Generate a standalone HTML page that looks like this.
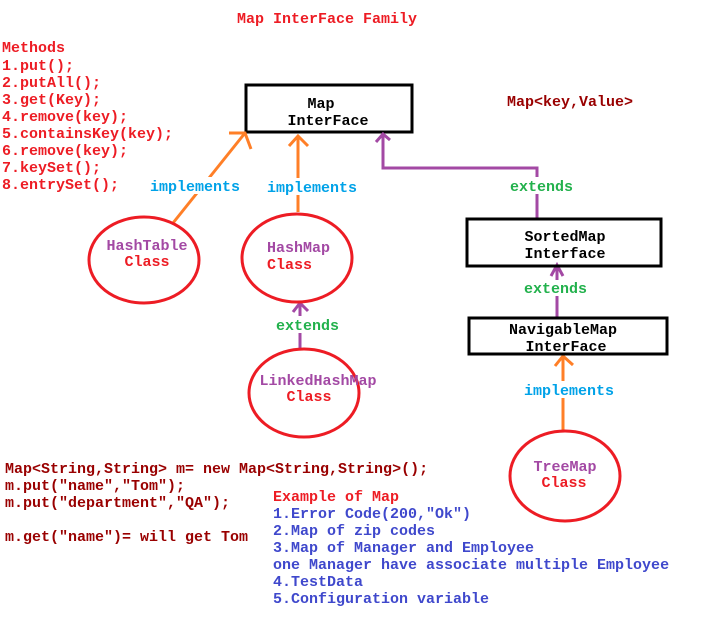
<!DOCTYPE html>
<html><head><meta charset="utf-8"><style>
html,body{margin:0;padding:0;background:#fff;}
svg{display:block;}
text{font-family:"Liberation Mono",monospace;font-size:15px;font-weight:bold;}
</style></head><body>
<svg width="706" height="618" viewBox="0 0 706 618" xmlns="http://www.w3.org/2000/svg">
<g fill="#ed1c24">
<text x="237" y="23">Map InterFace Family</text>
<text x="2" y="52">Methods</text>
<text x="2" y="70">1.put();</text>
<text x="2" y="87">2.putAll();</text>
<text x="2" y="104">3.get(Key);</text>
<text x="2" y="121">4.remove(key);</text>
<text x="2" y="138">5.containsKey(key);</text>
<text x="2" y="155">6.remove(key);</text>
<text x="2" y="172">7.keySet();</text>
<text x="2" y="189">8.entrySet();</text>
</g>
<!-- Map box -->
<rect x="246" y="85" width="166" height="47" fill="none" stroke="#000" stroke-width="3"/>
<text x="321" y="108" text-anchor="middle" fill="#000">Map</text>
<text x="328" y="125" text-anchor="middle" fill="#000">InterFace</text>
<text x="507" y="106" fill="#990000">Map&lt;key,Value&gt;</text>
<!-- orange arrows -->
<g stroke="#ff7f27" stroke-width="3" fill="none">
<line x1="173" y1="223" x2="245" y2="133"/>
<polyline points="229,133 245,133 251,149"/>
<line x1="298" y1="212" x2="298" y2="137"/>
<polyline points="289,146 298,136 308,146"/>
<line x1="563" y1="432" x2="563" y2="357"/>
<polyline points="555,366 563,356 573,365"/>
</g>
<!-- purple arrows -->
<g stroke="#a349a4" stroke-width="3" fill="none">
<polyline points="537,218 537,168 383,168 383,135"/>
<polyline points="376,142 383,134 390,140"/>
<line x1="557" y1="318" x2="557" y2="266"/>
<polyline points="551,276 557,265 563,276"/>
<line x1="300" y1="349" x2="300" y2="304"/>
<polyline points="293,312 300,303 308,311"/>
</g>
<!-- labels with white bg -->
<rect x="148" y="177" width="92" height="17" fill="#fff"/>
<rect x="265" y="178" width="92" height="17" fill="#fff"/>
<rect x="508" y="177" width="66" height="17" fill="#fff"/>
<rect x="522" y="280" width="66" height="16" fill="#fff"/>
<rect x="274" y="316" width="66" height="17" fill="#fff"/>
<rect x="522" y="381" width="92" height="17" fill="#fff"/>
<g fill="#00a2e8">
<text x="150" y="191">implements</text>
<text x="267" y="192">implements</text>
<text x="524" y="395">implements</text>
</g>
<g fill="#22b14c">
<text x="510" y="191">extends</text>
<text x="524" y="293">extends</text>
<text x="276" y="330">extends</text>
</g>
<!-- Sorted / Navigable -->
<rect x="467" y="219" width="194" height="47" fill="none" stroke="#000" stroke-width="3"/>
<text x="565" y="241" text-anchor="middle" fill="#000">SortedMap</text>
<text x="565" y="258" text-anchor="middle" fill="#000">Interface</text>
<rect x="469" y="318" width="198" height="36" fill="none" stroke="#000" stroke-width="3"/>
<text x="563" y="334" text-anchor="middle" fill="#000">NavigableMap</text>
<text x="566" y="351" text-anchor="middle" fill="#000">InterFace</text>
<!-- circles -->
<g fill="none" stroke="#ed1c24" stroke-width="3">
<ellipse cx="144" cy="260" rx="55" ry="43"/>
<ellipse cx="297" cy="258" rx="55" ry="44"/>
<ellipse cx="304" cy="393" rx="55" ry="44"/>
<ellipse cx="565" cy="476" rx="55" ry="45"/>
</g>
<text x="147" y="250" text-anchor="middle" fill="#a349a4">HashTable</text>
<text x="147" y="266" text-anchor="middle" fill="#ed1c24">Class</text>
<text x="267" y="252" fill="#a349a4">HashMap</text>
<text x="267" y="269" fill="#ed1c24">Class</text>
<text x="318" y="385" text-anchor="middle" fill="#a349a4">LinkedHashMap</text>
<text x="309" y="401" text-anchor="middle" fill="#ed1c24">Class</text>
<text x="565" y="471" text-anchor="middle" fill="#a349a4">TreeMap</text>
<text x="564" y="487" text-anchor="middle" fill="#ed1c24">Class</text>
<!-- code -->
<g fill="#990000">
<text x="5" y="473">Map&lt;String,String&gt; m= new Map&lt;String,String&gt;();</text>
<text x="5" y="490">m.put("name","Tom");</text>
<text x="5" y="507">m.put("department","QA");</text>
<text x="5" y="541">m.get("name")= will get Tom</text>
</g>
<text x="273" y="501" fill="#ed1c24">Example of Map</text>
<g fill="#3f48cc">
<text x="273" y="518">1.Error Code(200,"Ok")</text>
<text x="273" y="535">2.Map of zip codes</text>
<text x="273" y="552">3.Map of Manager and Employee</text>
<text x="273" y="569">one Manager have associate multiple Employee</text>
<text x="273" y="586">4.TestData</text>
<text x="273" y="603">5.Configuration variable</text>
</g>
</svg>
</body></html>
